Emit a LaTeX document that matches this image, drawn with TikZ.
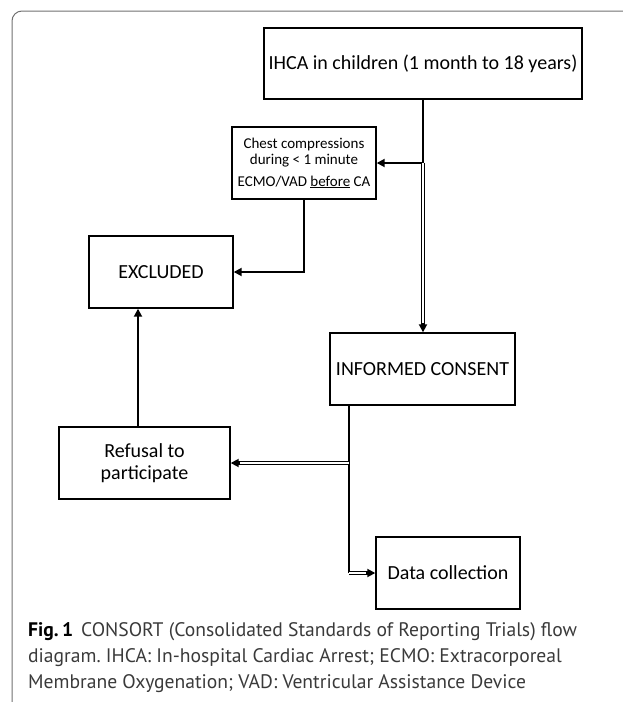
\documentclass[tikz,border=0pt]{standalone}
\usepackage{fontspec}
\setmainfont{Carlito}
\newfontfamily\capfont{PT Sans}
\usetikzlibrary{arrows.meta,calc}
\definecolor{framegray}{HTML}{707070}
\definecolor{capgray}{HTML}{3A3A3A}
\tikzset{
  box/.style={draw=black, line width=1.4pt, rectangle, align=center, inner sep=0pt,
              font=\fontsize{20}{24}\selectfont},
  conn/.style={draw=black, line width=1.8pt},
  dbl/.style={draw=black, double=white, double distance=1.8pt, line width=0.8pt},
  tri/.tip={Triangle[length=8pt,width=8pt]},
}
\frenchspacing
\begin{document}
\begin{tikzpicture}[x=1pt,y=-1pt]
\useasboundingbox (0,0) rectangle (622,702);
% frame
\draw[framegray, line width=1pt, rounded corners=10pt] (12,703) -- (12,11) -- (623,11);
% boxes
\node[box, minimum width=318pt, minimum height=71pt] (ihca) at (423,63.5) {IHCA in children (1 month to 18 years)};
\node[box, minimum width=144pt, minimum height=72pt, font=\fontsize{15}{16}\selectfont] (chest) at (304,163)
  {Chest compressions\\ during \textless{} 1 minute\\[6pt] ECMO/VAD \underline{before} CA};
\node[box, minimum width=144pt, minimum height=72pt] (excl) at (161,272) {EXCLUDED};
\node[box, minimum width=185pt, minimum height=72pt] (inf) at (422.5,369) {INFORMED CONSENT};
\node[box, minimum width=171pt, minimum height=72pt, font=\fontsize{20}{22}\selectfont] (ref) at (144.5,463) {Refusal to\\ participate};
\node[box, minimum width=144pt, minimum height=72pt] (data) at (448,573) {Data collection};
% junction points
\coordinate (j1) at (423,163);
\coordinate (r1) at (138,427);
\coordinate (c2) at (349,405);
\coordinate (tA) at (j1 |- inf.north);
\coordinate (tB) at (c2 |- ref.east);
\coordinate (tC) at (c2 |- data.west);
% connectors
\draw[conn] (ihca.south) -- (j1);
\draw[conn,-tri] (j1) -- (chest.east);
\draw[dbl, shorten >=6pt] (j1) -- (tA);
\draw[conn,-tri] ($(tA)!9pt!(j1)$) -- (tA);
\draw[conn,-tri] (chest.south) |- (excl.east);
\draw[conn,-tri] (r1) -- (r1 |- excl.south);
\draw[conn] (c2) -- (tC);
\draw[dbl, shorten >=6pt] (tB) -- (ref.east);
\draw[conn,-tri] ($(ref.east)!9pt!(tB)$) -- (ref.east);
\draw[dbl, shorten >=6pt] (tC) -- (data.west);
\draw[conn,-tri] ($(data.west)!9pt!(tC)$) -- (data.west);
% caption
\node[anchor=north west, align=left, inner sep=0pt, text=capgray,
      font=\capfont\fontsize{19.6}{26}\selectfont] (cap) at (28,622)
  {\textcolor{black}{\textbf{Fig.\,1}}\hspace{8pt}CONSORT (Consolidated Standards of Reporting Trials) flow\\
   diagram. IHCA: In-hospital Cardiac Arrest; ECMO: Extracorporeal\\
   Membrane Oxygenation; VAD: Ventricular Assistance Device};
\end{tikzpicture}
\end{document}
